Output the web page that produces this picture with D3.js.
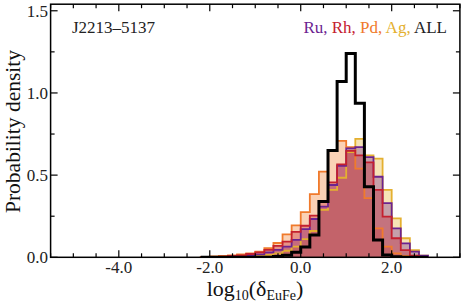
<!DOCTYPE html>
<html><head><meta charset="utf-8">
<script src="https://cdn.jsdelivr.net/npm/d3@7"></script>
<style>html,body{margin:0;padding:0;background:#fff;}svg{display:block;}
text{font-family:"Liberation Serif","DejaVu Serif",serif;}</style>
</head><body>
<svg id="c" width="464" height="307"></svg>
<script>
// Histogram bins: left edges from -2.2 in steps of 0.2
const binStart = -2.2;
const binWidth = 0.2;
const ru  = [0,0,0,0.004,0.008,0.012,0.018,0.03,0.045,0.065,0.106,0.172,0.233,0.308,0.44,0.557,0.663,0.67,0.61,0.49,0.33,0.176,0.085,0.035,0.01];
const rh  = [0,0,0.004,0.008,0.012,0.02,0.03,0.045,0.07,0.095,0.155,0.192,0.253,0.338,0.456,0.566,0.647,0.62,0.578,0.41,0.247,0.116,0.044,0.01,0];
const pd  = [0.003,0.005,0.008,0.012,0.018,0.024,0.034,0.055,0.087,0.14,0.194,0.275,0.385,0.521,0.648,0.709,0.67,0.54,0.36,0.176,0.065,0.024,0.008,0.003,0];
const ag  = [0,0,0,0,0,0.005,0.008,0.015,0.024,0.04,0.065,0.11,0.16,0.288,0.41,0.484,0.64,0.72,0.62,0.60,0.41,0.237,0.116,0.044,0.01];
const all = [0,0,0,0,0,0,0,0,0.005,0.012,0.03,0.062,0.136,0.34,0.65,1.07,1.24,0.937,0.43,0.105,0.014,0.003,0,0,0];
const seriesNames = ["Ru", "Rh", "Pd", "Ag", "ALL"];
const seriesColors = ["#6b2391", "#c4202f", "#f07a2c", "#e4b030", "#111111"];
const xMajorTicks = [-4, -2, 0, 2];
const xTickLabels = ["-4.0", "-2.0", "0.0", "2.0"];
const yMajorTicks = [0, 0.5, 1.0, 1.5];
const yTickLabels = ["0.0", "0.5", "1.0", "1.5"];
const starName = "J2213\u20135137";

const svg = d3.select("#c");
const L = 50.6, R = 459.9, T = 4.2, B = 257.3;
const x = d3.scaleLinear().domain([-5.5, 3.5]).range([L, R]);
const y = d3.scaleLinear().domain([0, 1.54]).range([B, T]);

svg.append("defs").append("clipPath").attr("id","clip")
  .append("rect").attr("x", L).attr("y", T).attr("width", R-L).attr("height", B-T);

function stepPath(vals) {
  let p = [];
  p.push([x(binStart), y(0)]);
  vals.forEach((v, i) => {
    const x0 = x(binStart + i*binWidth), x1 = x(binStart + (i+1)*binWidth);
    p.push([x0, y(v)]); p.push([x1, y(v)]);
  });
  p.push([x(binStart + vals.length*binWidth), y(0)]);
  return d3.line()(p);
}

const g = svg.append("g").attr("clip-path", "url(#clip)");
const order = [3, 2, 0, 1];
const data = [ru, rh, pd, ag];
order.forEach(i => {
  g.append("path").attr("d", stepPath(data[i]) + "Z")
    .attr("fill", seriesColors[i]).attr("fill-opacity", 0.35).attr("stroke", "none");
});
order.forEach(i => {
  g.append("path").attr("d", stepPath(data[i]))
    .attr("fill", "none").attr("stroke", seriesColors[i]).attr("stroke-width", 1.8)
    .attr("stroke-linejoin", "miter");
});
g.append("path").attr("d", stepPath(all))
  .attr("fill", "none").attr("stroke", "#000").attr("stroke-width", 3)
  .attr("stroke-linejoin", "miter");

// frame
svg.append("rect").attr("x", L).attr("y", T).attr("width", R-L).attr("height", B-T)
  .attr("fill", "none").attr("stroke", "#000").attr("stroke-width", 1.5);

// ticks
const xMinor = d3.range(-5.5, 3.51, 0.5).filter(v => !xMajorTicks.some(m => Math.abs(m-v) < 1e-6));
const yMinor = d3.range(0, 1.54, 0.25).filter(v => !yMajorTicks.some(m => Math.abs(m-v) < 1e-6));
const tk = svg.append("g").attr("stroke", "#000").attr("stroke-width", 1.2);
function xt(v, len) {
  tk.append("line").attr("x1", x(v)).attr("x2", x(v)).attr("y1", B).attr("y2", B-len);
  tk.append("line").attr("x1", x(v)).attr("x2", x(v)).attr("y1", T).attr("y2", T+len);
}
function yt(v, len) {
  tk.append("line").attr("x1", L).attr("x2", L+len).attr("y1", y(v)).attr("y2", y(v));
  tk.append("line").attr("x1", R).attr("x2", R-len).attr("y1", y(v)).attr("y2", y(v));
}
xMajorTicks.forEach(v => xt(v, 7));
xMinor.forEach(v => xt(v, 4));
yMajorTicks.forEach(v => yt(v, 7));
yMinor.forEach(v => yt(v, 4));

// tick labels
xMajorTicks.forEach((v, i) => {
  svg.append("text").attr("x", x(v)).attr("y", 273).attr("text-anchor", "middle")
    .attr("font-size", 17).attr("fill", "#222").text(xTickLabels[i]);
});
yMajorTicks.forEach((v, i) => {
  svg.append("text").attr("x", 48).attr("y", y(v) + 6).attr("text-anchor", "end")
    .attr("font-size", 17).attr("fill", "#222").text(yTickLabels[i]);
});

// axis labels
svg.append("text").attr("transform", "translate(20,131.5) rotate(-90)").attr("text-anchor", "middle")
  .attr("font-size", 21.5).attr("fill", "#111").text("Probability density");
const xl = svg.append("text").attr("x", 255).attr("y", 296).attr("text-anchor", "middle")
  .attr("font-size", 22).attr("fill", "#111");
xl.append("tspan").text("log");
xl.append("tspan").attr("font-size", 14).attr("dy", 4).text("10");
xl.append("tspan").attr("dy", -4).text("(\u03B4");
xl.append("tspan").attr("font-size", 14).attr("dy", 4).text("EuFe");
xl.append("tspan").attr("dy", -4).text(")");

// star name
svg.append("text").attr("x", 72).attr("y", 33).attr("font-size", 17)
  .attr("fill", "#222").text(starName);

// legend text
const lg = svg.append("text").attr("x", 447).attr("y", 33).attr("text-anchor", "end")
  .attr("font-size", 17);
seriesNames.forEach((n, i) => {
  lg.append("tspan").attr("fill", i === 4 ? "#222" : seriesColors[i])
    .text(n + (i < 4 ? ", " : ""));
});
</script>
</body></html>
